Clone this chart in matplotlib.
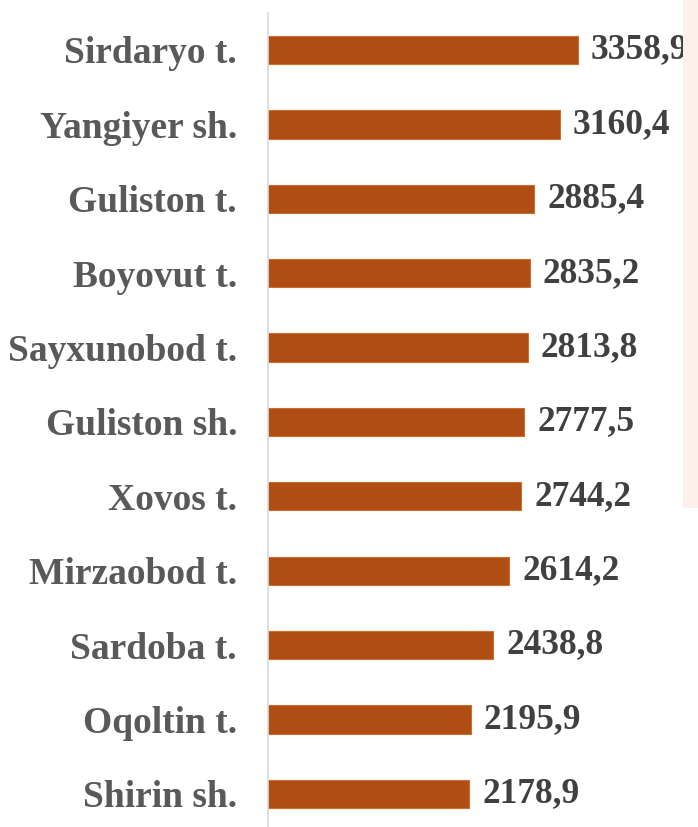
import matplotlib
matplotlib.use("Agg")
import matplotlib.pyplot as plt
from matplotlib.patches import Rectangle

categories = ["Sirdaryo t.", "Yangiyer sh.", "Guliston t.", "Boyovut t.", "Sayxunobod t.",
              "Guliston sh.", "Xovos t.", "Mirzaobod t.", "Sardoba t.", "Oqoltin t.", "Shirin sh."]
values = [3358.9, 3160.4, 2885.4, 2835.2, 2813.8, 2777.5, 2744.2, 2614.2, 2438.8, 2195.9, 2178.9]
value_labels = ["3358,9", "3160,4", "2885,4", "2835,2", "2813,8", "2777,5",
                "2744,2", "2614,2", "2438,8", "2195,9", "2178,9"]

W, H = 698, 827
fig = plt.figure(figsize=(W / 100, H / 100), dpi=100)
fig.patch.set_facecolor("white")

# light pink strip on the right
fig.patches.append(Rectangle((683 / W, 1 - 508 / H), 15 / W, 508 / H,
                             transform=fig.transFigure, facecolor="#FDF0EB",
                             edgecolor="none", zorder=0))

left_px, right_px = 268, 698
top_px, bottom_px = 12.8, 831
ax = fig.add_axes([left_px / W, 1 - bottom_px / H, (right_px - left_px) / W,
                   (bottom_px - top_px) / H])
ax.set_facecolor("none")

n = len(categories)
ypos = list(range(n))
ax.barh(ypos, values, height=0.38, color="#AF4D14", edgecolor="#C9702F",
        linewidth=0.8, zorder=2)
ax.set_ylim(n - 0.5, -0.5)
ax.set_xlim(0, 430 / 0.09229)

ax.set_yticks(ypos)
ax.set_yticklabels(categories, fontfamily="Liberation Serif", fontweight="bold",
                   fontsize=27, color="#595959")
ax.tick_params(axis="y", length=0, pad=22.3)
ax.set_xticks([])
for s in ["top", "right", "bottom"]:
    ax.spines[s].set_visible(False)
ax.spines["left"].set_color("#D9D9D9")
ax.spines["left"].set_linewidth(1.2)

for y, v, lab in zip(ypos, values, value_labels):
    ax.annotate(lab, (v, y), xytext=(13, 0), textcoords="offset pixels",
                ha="left", va="center", fontfamily="Liberation Serif",
                fontweight="bold", fontsize=25.5, color="#404040", zorder=3,
                annotation_clip=False)

fig.savefig("out.png", dpi=100)
